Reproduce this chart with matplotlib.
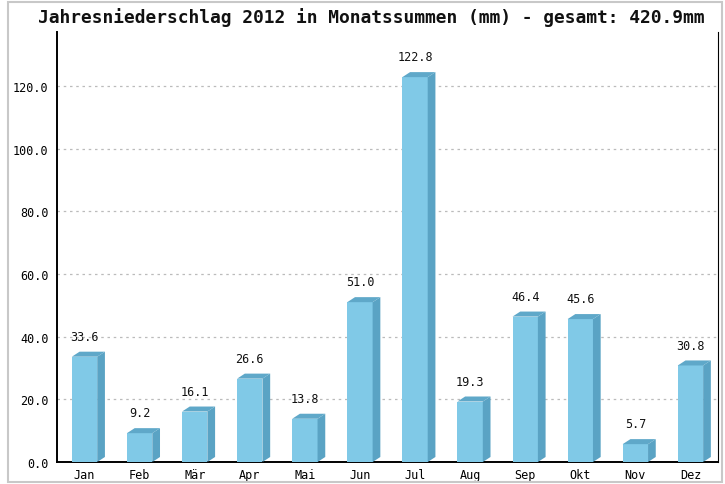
import numpy as np
import matplotlib
matplotlib.use("Agg")
import matplotlib.pyplot as plt
from matplotlib.patches import Polygon, Rectangle

months = ["Jan", "Feb", "Mär", "Apr", "Mai", "Jun", "Jul", "Aug", "Sep", "Okt", "Nov", "Dez"]
rain = [33.6, 9.2, 16.1, 26.6, 13.8, 51.0, 122.8, 19.3, 46.4, 45.6, 5.7, 30.8]
yticks = [0, 20, 40, 60, 80, 100, 120]
title = "Jahresniederschlag 2012 in Monatssummen (mm) - gesamt: 420.9mm"

front = "#80C9E7"
side = "#5AA3C4"
top_c = "#5FA8C9"
mono = ["DejaVu Sans Mono"]

fig = plt.figure(figsize=(7.25, 4.85), dpi=100)
fig.patches.append(Rectangle((8 / 725, 2 / 485), 714 / 725, 480 / 485, transform=fig.transFigure,
                             fill=False, edgecolor="#c8c8c8", linewidth=1.5))
ax = fig.add_axes([57 / 725, 22 / 485, 661 / 725, 430 / 485])

x = np.arange(len(months))
w = 0.46
dx = 0.14   # depth in category units
dy = 1.6    # depth in data units

# grid first so bars sit on top
for t in yticks[1:]:
    ax.axhline(t, color="#bbbbbb", linestyle=(0, (2, 3)), linewidth=0.9, zorder=0)

ax.bar(x, rain, width=w, color=front, edgecolor=front, linewidth=0, zorder=3)
for xi, h in zip(x, rain):
    x0, x1 = xi - w / 2, xi + w / 2
    ax.add_patch(Polygon([(x1, 0), (x1 + dx, dy), (x1 + dx, h + dy), (x1, h)],
                         closed=True, facecolor=side, edgecolor="none", zorder=3))
    ax.add_patch(Polygon([(x0, h), (x0 + dx, h + dy), (x1 + dx, h + dy), (x1, h)],
                         closed=True, facecolor=top_c, edgecolor="none", zorder=3))
    ax.annotate(f"{h:.1f}", (xi, h), xytext=(0, 10), textcoords="offset points",
                ha="center", va="bottom", fontsize=8.5, family=mono, color="#111111")

ax.set_xlim(-0.5, 11.5)
ax.set_ylim(0, 137.2)
ax.set_xticks(x)
ax.set_xticklabels(months, family=mono, fontsize=8.5)
ax.set_yticks(yticks)
ax.set_yticklabels([f"{t:.1f}" for t in yticks], family=mono, fontsize=8.5)
ax.tick_params(axis="both", length=0, pad=4)
ax.tick_params(axis="y", pad=6)

ax.spines["top"].set_visible(False)
ax.spines["left"].set_linewidth(1.4)
ax.spines["bottom"].set_linewidth(1.4)
ax.spines["right"].set_linewidth(0.8)

fig.text(371 / 725, 1 - 18 / 485, title, ha="center", va="center", fontsize=12.9,
         family=mono, fontweight="semibold", color="#111111")

fig.savefig("out.png", dpi=100)
